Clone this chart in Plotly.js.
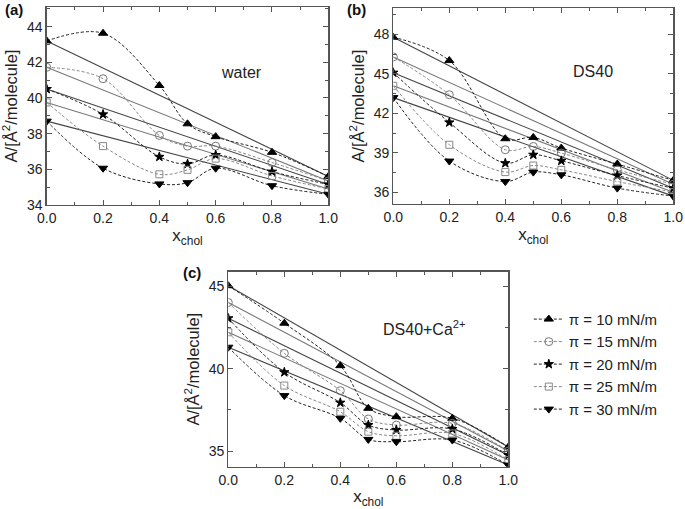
<!DOCTYPE html>
<html>
<head>
<meta charset="utf-8">
<script src="https://cdn.plot.ly/plotly-3.0.1.min.js"></script>
<style>html,body{margin:0;padding:0;background:#fff;}#chart{width:685px;height:509px;}</style>
</head>
<body>
<div id="chart"></div>
<script>
// x positions (mole fraction of cholesterol)
const xChol = [0, 0.2, 0.4, 0.5, 0.6, 0.8, 1.0];
const seriesNames = ['π = 10 mN/m', 'π = 15 mN/m', 'π = 20 mN/m', 'π = 25 mN/m', 'π = 30 mN/m'];

// panel (a) water
const water10 = [43.2, 43.63, 40.7, 38.55, 37.83, 36.95, 35.6];
const water15 = [41.72, 41.08, 37.9, 37.3, 37.3, 36.38, 35.35];
const water20 = [40.5, 39.08, 36.7, 36.3, 36.8, 35.87, 35.15];
const water25 = [39.75, 37.3, 35.72, 35.97, 36.6, 35.63, 34.9];
const water30 = [38.7, 36.06, 35.18, 35.25, 36.06, 35.08, 34.6];

// panel (b) DS40
const ds10 = [47.8, 46.02, 40.07, 40.17, 39.36, 38.14, 36.9];
const ds15 = [46.3, 43.42, 39.23, 39.48, 38.98, 37.70, 36.6];
const ds20 = [45.1, 41.31, 38.21, 38.85, 38.39, 37.27, 36.3];
const ds25 = [44.1, 39.61, 37.53, 38.03, 37.70, 36.81, 36.0];
const ds30 = [43.2, 38.37, 36.81, 37.53, 37.32, 36.31, 35.7];

// panel (c) DS40+Ca2+
const ca10 = [45.05, 42.77, 40.19, 37.6, 37.09, 36.99, 35.25];
const ca15 = [44.03, 40.94, 38.67, 36.95, 36.58, 36.68, 35.0];
const ca20 = [43.07, 39.79, 37.94, 36.58, 36.28, 36.34, 34.75];
const ca25 = [42.22, 38.98, 37.39, 36.18, 35.93, 36.07, 34.45];
const ca30 = [41.31, 38.37, 36.99, 35.71, 35.57, 35.67, 34.15];

const xTickVals = [0, 0.2, 0.4, 0.6, 0.8, 1.0];
const yTicksA = [34, 36, 38, 40, 42, 44];
const yTicksB = [36, 39, 42, 45, 48];
const yTicksC = [35, 40, 45];

const symbols = ['triangle-up', 'circle-open', 'star', 'square-open', 'triangle-down'];
const symSizes = [8, 8, 7, 7, 8];
const curveColors = ['#222', '#888', '#222', '#888', '#222'];
const markColors = ['#000', '#777', '#000', '#888', '#000'];
const solidColors = ['#444', '#777', '#444', '#777', '#444'];

const panels = [
  {sets: [water10, water15, water20, water25, water30], xa: 'x', ya: 'y'},
  {sets: [ds10, ds15, ds20, ds25, ds30], xa: 'x2', ya: 'y2'},
  {sets: [ca10, ca15, ca20, ca25, ca30], xa: 'x3', ya: 'y3'}
];

const traces = [];
panels.forEach((p, pi) => {
  p.sets.forEach((vals, si) => {
    traces.push({
      x: [xChol[0], xChol[xChol.length - 1]],
      y: [vals[0], vals[vals.length - 1]],
      xaxis: p.xa, yaxis: p.ya, mode: 'lines', showlegend: false,
      line: {color: solidColors[si], width: 1.1}, hoverinfo: 'skip'
    });
  });
  p.sets.forEach((vals, si) => {
    traces.push({
      x: xChol, y: vals, xaxis: p.xa, yaxis: p.ya,
      mode: 'lines+markers', name: seriesNames[si], showlegend: pi === 0,
      line: {color: curveColors[si], width: 1, dash: '3px,2px', shape: 'spline', smoothing: 1},
      marker: {symbol: symbols[si], size: symSizes[si], color: markColors[si],
               line: {color: markColors[si], width: 1}}
    });
  });
});

const fontFam = '"Liberation Sans", Arial, sans-serif';
function xAxis(domain, anchor) {
  return {
    domain: domain, anchor: anchor, range: [0, 1], tickvals: xTickVals,
    tickformat: '.1f', ticks: 'inside', ticklen: 5, tickwidth: 1, tickcolor: '#555',
    minor: {dtick: 0.1, ticks: 'inside', ticklen: 3, tickcolor: '#555'},
    showline: true, linecolor: '#555', linewidth: 1.3, mirror: 'ticks',
    showgrid: false, zeroline: false,
    tickfont: {size: 14, color: '#222', family: fontFam},
    title: {text: 'x<sub>chol</sub>', font: {size: 17, color: '#222', family: fontFam}, standoff: 4}
  };
}
function yAxis(domain, anchor, range, vals, minorD) {
  return {
    domain: domain, anchor: anchor, range: range, tickvals: vals,
    ticks: 'inside', ticklen: 5, tickwidth: 1, tickcolor: '#555',
    minor: {dtick: minorD, ticks: 'inside', ticklen: 3, tickcolor: '#555'},
    showline: true, linecolor: '#555', linewidth: 1.3, mirror: 'ticks',
    showgrid: false, zeroline: false,
    tickfont: {size: 14, color: '#222', family: fontFam},
    title: {text: 'A/[Å<sup>2</sup>/molecule]', font: {size: 16.5, color: '#222', family: fontFam}, standoff: 5}
  };
}

const layout = {
  width: 685, height: 509,
  margin: {l: 0, r: 0, t: 0, b: 0},
  paper_bgcolor: '#fff', plot_bgcolor: '#fff',
  font: {family: fontFam, color: '#222'},
  showlegend: true,
  legend: {x: 0.772, y: 0.405, xanchor: 'left', yanchor: 'top', bgcolor: 'rgba(0,0,0,0)',
           font: {size: 15, color: '#222', family: fontFam}, tracegroupgap: 0, itemwidth: 30},
  xaxis: xAxis([0.0682, 0.4793], 'y'),
  yaxis: yAxis([0.5973, 0.9862], 'x', [34, 45.1], yTicksA, 1),
  xaxis2: xAxis([0.5742, 0.9829], 'y2'),
  yaxis2: yAxis([0.5992, 0.9837], 'x2', [35.1, 50.0], yTicksB, 1.5),
  xaxis3: xAxis([0.3333, 0.7421], 'y3'),
  yaxis3: yAxis([0.0831, 0.4662], 'x3', [34.05, 45.9], yTicksC, 2.5),
  annotations: [
    {text: '<b>(a)</b>', xref: 'paper', yref: 'paper', x: 0.004, y: 1 - 9 / 509, xanchor: 'left', yanchor: 'middle', showarrow: false, font: {size: 15, color: '#111'}},
    {text: '<b>(b)</b>', xref: 'paper', yref: 'paper', x: 345 / 685, y: 1 - 9 / 509, xanchor: 'left', yanchor: 'middle', showarrow: false, font: {size: 15, color: '#111'}},
    {text: '<b>(c)</b>', xref: 'paper', yref: 'paper', x: 181 / 685, y: 1 - 272 / 509, xanchor: 'left', yanchor: 'middle', showarrow: false, font: {size: 15, color: '#111'}},
    {text: 'water', xref: 'x', yref: 'y', x: 0.69, y: 41.42, showarrow: false, font: {size: 16, color: '#222'}},
    {text: 'DS40', xref: 'x2', yref: 'y2', x: 0.714, y: 45.2, showarrow: false, font: {size: 16, color: '#222'}},
    {text: 'DS40+Ca<sup>2+</sup>', xref: 'x3', yref: 'y3', x: 0.70, y: 42.46, showarrow: false, font: {size: 16, color: '#222'}}
  ]
};

Plotly.newPlot('chart', traces, layout, {staticPlot: true, displayModeBar: false});
</script>
</body>
</html>
